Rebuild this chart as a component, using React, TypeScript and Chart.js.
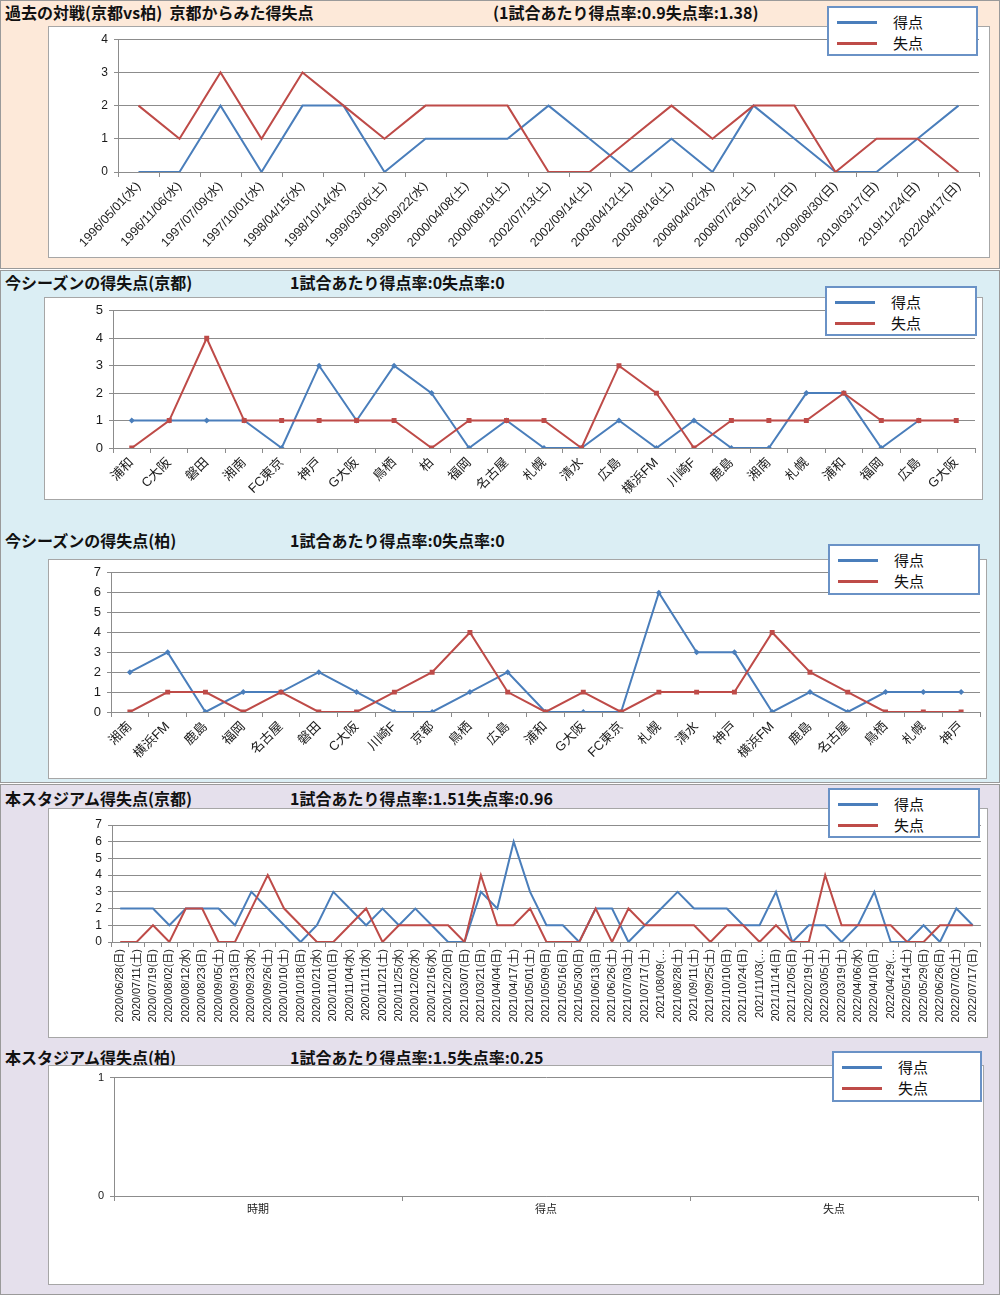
import React, { useEffect, useRef } from "react";
import { Chart, registerables } from "chart.js";
Chart.register(...registerables);

// ---------- data ----------
const SERIES = ["得点", "失点"];
const COLORS = ["#4A7EBB", "#BE4B48"];

const h2hDates = [
  "1996/05/01(水)", "1996/11/06(水)", "1997/07/09(水)", "1997/10/01(水)", "1998/04/15(水)",
  "1998/10/14(水)", "1999/03/06(土)", "1999/09/22(水)", "2000/04/08(土)", "2000/08/19(土)",
  "2002/07/13(土)", "2002/09/14(土)", "2003/04/12(土)", "2003/08/16(土)", "2008/04/02(水)",
  "2008/07/26(土)", "2009/07/12(日)", "2009/08/30(日)", "2019/03/17(日)", "2019/11/24(日)",
  "2022/04/17(日)",
];
const h2hFor = [0, 0, 2, 0, 2, 2, 0, 1, 1, 1, 2, 1, 0, 1, 0, 2, 1, 0, 0, 1, 2];
const h2hAgainst = [2, 1, 3, 1, 3, 2, 1, 2, 2, 2, 0, 0, 1, 2, 1, 2, 2, 0, 1, 1, 0];

const kyotoOpponents = [
  "浦和", "C大阪", "磐田", "湘南", "FC東京", "神戸", "G大阪", "鳥栖", "柏", "福岡", "名古屋", "札幌",
  "清水", "広島", "横浜FM", "川崎F", "鹿島", "湘南", "札幌", "浦和", "福岡", "広島", "G大阪",
];
const kyotoFor = [1, 1, 1, 1, 0, 3, 1, 3, 2, 0, 1, 0, 0, 1, 0, 1, 0, 0, 2, 2, 0, 1, null];
const kyotoAgainst = [0, 1, 4, 1, 1, 1, 1, 1, 0, 1, 1, 1, 0, 3, 2, 0, 1, 1, 1, 2, 1, 1, 1];

const kashiwaOpponents = [
  "湘南", "横浜FM", "鹿島", "福岡", "名古屋", "磐田", "C大阪", "川崎F", "京都", "鳥栖", "広島", "浦和",
  "G大阪", "FC東京", "札幌", "清水", "神戸", "横浜FM", "鹿島", "名古屋", "鳥栖", "札幌", "神戸",
];
const kashiwaFor = [2, 3, 0, 1, 1, 2, 1, 0, 0, 1, 2, 0, 0, 0, 6, 3, 3, 0, 1, 0, 1, 1, 1];
const kashiwaAgainst = [0, 1, 1, 0, 1, 0, 0, 1, 2, 4, 1, 0, 1, 0, 1, 1, 1, 4, 2, 1, 0, 0, 0];

const stadiumDates = [
  "2020/06/28(日)", "2020/07/11(土)", "2020/07/19(日)", "2020/08/02(日)", "2020/08/12(水)",
  "2020/08/23(日)", "2020/09/05(土)", "2020/09/13(日)", "2020/09/23(水)", "2020/09/26(土)",
  "2020/10/10(土)", "2020/10/18(日)", "2020/10/21(水)", "2020/11/01(日)", "2020/11/04(水)",
  "2020/11/11(水)", "2020/11/21(土)", "2020/11/25(水)", "2020/12/02(水)", "2020/12/16(水)",
  "2020/12/20(日)", "2021/03/07(日)", "2021/03/21(日)", "2021/04/04(日)", "2021/04/17(土)",
  "2021/05/01(土)", "2021/05/09(日)", "2021/05/16(日)", "2021/05/30(日)", "2021/06/13(日)",
  "2021/06/26(土)", "2021/07/03(土)", "2021/07/17(土)", "2021/08/09(…", "2021/08/28(土)",
  "2021/09/11(土)", "2021/09/25(土)", "2021/10/10(日)", "2021/10/24(日)", "2021/11/03(…",
  "2021/11/14(日)", "2021/12/05(日)", "2022/02/19(土)", "2022/03/05(土)", "2022/03/19(土)",
  "2022/04/06(水)", "2022/04/10(日)", "2022/04/29(…", "2022/05/14(土)", "2022/05/29(日)",
  "2022/06/26(日)", "2022/07/02(土)", "2022/07/17(日)",
];
const stadiumFor = [
  2, 2, 2, 1, 2, 2, 2, 1, 3, 2, 1, 0, 1, 3, 2, 1, 2, 1,
  2, 1, 0, 0, 3, 2, 6, 3, 1, 1, 0, 2, 2, 0, 1, 2, 3,
  2, 2, 2, 1, 1, 3, 0, 1, 1, 0, 1, 3, 0, 0, 1, 0, 2, 1,
];
const stadiumAgainst = [
  0, 0, 1, 0, 2, 2, 0, 0, 2, 4, 2, 1, 0, 0, 1, 2, 0, 1,
  1, 1, 1, 0, 4, 1, 1, 2, 0, 0, 0, 2, 0, 2, 1, 1, 1,
  1, 0, 1, 1, 0, 1, 0, 0, 4, 1, 1, 1, 1, 0, 0, 1, 1, 1,
];

const kashiwaStadiumCats = ["時期", "得点", "失点"];
const kashiwaStadiumFor: (number | null)[] = [null, null, null];
const kashiwaStadiumAgainst: (number | null)[] = [null, null, null];

// ---------- layout ----------
type Rect = { l: number; t: number; r: number; b: number };
type PanelCfg = {
  labels: string[];
  forData: (number | null)[];
  againstData: (number | null)[];
  yMax: number;
  box: Rect;
  plot: Rect;
  legend: Rect;
  rotation: number;
  xFont: number;
  yFont: number;
  markers: boolean;
  title: string;
  rate: string;
  titleY: number;
  rateX: number;
};

const FONT = "'Liberation Sans', 'Noto Sans CJK JP', sans-serif";
const TITLE_FONT = "'Noto Sans CJK JP', sans-serif";

const panels: PanelCfg[] = [
  {
    labels: h2hDates, forData: h2hFor, againstData: h2hAgainst, yMax: 4,
    box: { l: 48, t: 26, r: 990, b: 258 }, plot: { l: 118, t: 37, r: 979, b: 172 },
    legend: { l: 827, t: 6, r: 978, b: 56 }, rotation: 47, xFont: 12.5, yFont: 12, markers: false,
    title: "過去の対戦(京都vs柏)  京都からみた得失点", rate: "(1試合あたり得点率:0.9失点率:1.38)",
    titleY: 12, rateX: 493,
  },
  {
    labels: kyotoOpponents, forData: kyotoFor, againstData: kyotoAgainst, yMax: 5,
    box: { l: 44, t: 297, r: 983, b: 500 }, plot: { l: 113, t: 307, r: 975, b: 448 },
    legend: { l: 825, t: 286, r: 977, b: 336 }, rotation: 45, xFont: 13, yFont: 13, markers: true,
    title: "今シーズンの得失点(京都)", rate: "1試合あたり得点率:0失点率:0",
    titleY: 282, rateX: 290,
  },
  {
    labels: kashiwaOpponents, forData: kashiwaFor, againstData: kashiwaAgainst, yMax: 7,
    box: { l: 48, t: 559, r: 987, b: 779 }, plot: { l: 111, t: 568, r: 980, b: 712 },
    legend: { l: 828, t: 544, r: 980, b: 595 }, rotation: 45, xFont: 13, yFont: 13, markers: true,
    title: "今シーズンの得失点(柏)", rate: "1試合あたり得点率:0失点率:0",
    titleY: 540, rateX: 290,
  },
  {
    labels: stadiumDates, forData: stadiumFor, againstData: stadiumAgainst, yMax: 7,
    box: { l: 48, t: 808, r: 988, b: 1038 }, plot: { l: 112, t: 825, r: 981, b: 942 },
    legend: { l: 828, t: 788, r: 980, b: 838 }, rotation: 90, xFont: 11, yFont: 12, markers: false,
    title: "本スタジアム得失点(京都)", rate: "1試合あたり得点率:1.51失点率:0.96",
    titleY: 798, rateX: 290,
  },
  {
    labels: kashiwaStadiumCats, forData: kashiwaStadiumFor, againstData: kashiwaStadiumAgainst, yMax: 1,
    box: { l: 48, t: 1065, r: 984, b: 1285 }, plot: { l: 114, t: 1074, r: 978, b: 1196 },
    legend: { l: 832, t: 1051, r: 982, b: 1102 }, rotation: 0, xFont: 11, yFont: 11, markers: false,
    title: "本スタジアム得失点(柏)", rate: "1試合あたり得点率:1.5失点率:0.25",
    titleY: 1057, rateX: 290,
  },
];

const sections = [
  { top: 0, bottom: 269, bg: "#FDE9D9" },
  { top: 270, bottom: 783, bg: "#DBEEF4" },
  { top: 784, bottom: 1295, bg: "#E5E0EC" },
];

function LineChart({ cfg }: { cfg: PanelCfg }) {
  const ref = useRef<HTMLCanvasElement>(null);
  const { box, plot } = cfg;
  const w = box.r - box.l;
  const h = box.b - box.t;
  useEffect(() => {
    const gridColor = "#8C8C8C";
    const chart = new Chart(ref.current as HTMLCanvasElement, {
      type: "line",
      data: {
        labels: cfg.labels,
        datasets: [
          {
            label: SERIES[0], data: cfg.forData, borderColor: COLORS[0], backgroundColor: COLORS[0],
            borderWidth: 2, tension: 0, pointStyle: "rectRot", pointRadius: cfg.markers ? 3 : 0,
            pointBorderWidth: 0, order: 1,
          },
          {
            label: SERIES[1], data: cfg.againstData, borderColor: COLORS[1], backgroundColor: COLORS[1],
            borderWidth: 2, tension: 0, pointStyle: "rect", pointRadius: cfg.markers ? 3.5 : 0,
            pointBorderWidth: 0, order: 0,
          },
        ],
      },
      options: {
        animation: false,
        responsive: false,
        maintainAspectRatio: false,
        devicePixelRatio: 1,
        layout: { padding: { left: 0, top: plot.t - box.t, right: box.r - plot.r, bottom: 0 } },
        plugins: { legend: { display: false }, tooltip: { enabled: false } },
        scales: {
          x: {
            type: "category",
            offset: true,
            grid: { display: true, drawOnChartArea: false, drawTicks: true, tickLength: 5, offset: true, color: gridColor },
            border: { display: true, color: gridColor },
            ticks: {
              autoSkip: false, maxRotation: cfg.rotation, minRotation: cfg.rotation,
              font: { size: cfg.xFont, family: FONT }, color: "#1a1a1a", padding: 2,
            },
            afterFit: (s: any) => { s.height = box.b - plot.b; },
          },
          y: {
            min: 0, max: cfg.yMax,
            ticks: { stepSize: 1, autoSkip: false, font: { size: cfg.yFont, family: FONT }, color: "#1a1a1a", padding: 6 },
            grid: { color: gridColor, tickLength: 4 },
            border: { display: true, color: gridColor },
            afterFit: (s: any) => { s.width = plot.l - box.l; },
          },
        },
      } as any,
    });
    return () => chart.destroy();
  }, [cfg]);
  return (
    <canvas
      ref={ref}
      width={w}
      height={h}
      style={{ position: "absolute", left: box.l, top: box.t, width: w, height: h }}
    />
  );
}

function Legend({ rect }: { rect: Rect }) {
  return (
    <div
      style={{
        position: "absolute", left: rect.l, top: rect.t, width: rect.r - rect.l, height: rect.b - rect.t,
        boxSizing: "border-box", border: "2px solid #6A92C6", background: "#fff",
      }}
    >
      {SERIES.map((s, i) => (
        <div key={s} style={{ position: "absolute", left: 8, top: 5 + i * 21, height: 18, display: "flex", alignItems: "center" }}>
          <span style={{ display: "inline-block", width: 40, height: 3, background: COLORS[i] }} />
          <span style={{ marginLeft: 16, fontSize: 15, lineHeight: "18px", fontFamily: TITLE_FONT, color: "#111" }}>{s}</span>
        </div>
      ))}
    </div>
  );
}

function Panel({ cfg }: { cfg: PanelCfg }) {
  const { box } = cfg;
  const titleStyle: React.CSSProperties = {
    position: "absolute", top: cfg.titleY - 11, fontFamily: TITLE_FONT, fontWeight: 700,
    fontSize: 16, lineHeight: "22px", whiteSpace: "pre", color: "#111",
  };
  return (
    <>
      <div style={{ ...titleStyle, left: 5 }}>{cfg.title}</div>
      <div style={{ ...titleStyle, left: cfg.rateX }}>{cfg.rate}</div>
      <div
        style={{
          position: "absolute", left: box.l, top: box.t, width: box.r - box.l, height: box.b - box.t,
          boxSizing: "border-box", border: "1px solid #A6A6A6", background: "#fff",
        }}
      />
      <LineChart cfg={cfg} />
      <Legend rect={cfg.legend} />
    </>
  );
}

export default function App() {
  return (
    <div style={{ position: "absolute", left: 0, top: 0, width: 1000, height: 1295, background: "#fff", overflow: "hidden" }}>
      {sections.map((s, i) => (
        <div
          key={i}
          style={{
            position: "absolute", left: 0, top: s.top, width: 1000, height: s.bottom - s.top,
            boxSizing: "border-box", background: s.bg, border: "1px solid #9A9A9A",
          }}
        />
      ))}
      {panels.map((p, i) => (
        <Panel key={i} cfg={p} />
      ))}
    </div>
  );
}
